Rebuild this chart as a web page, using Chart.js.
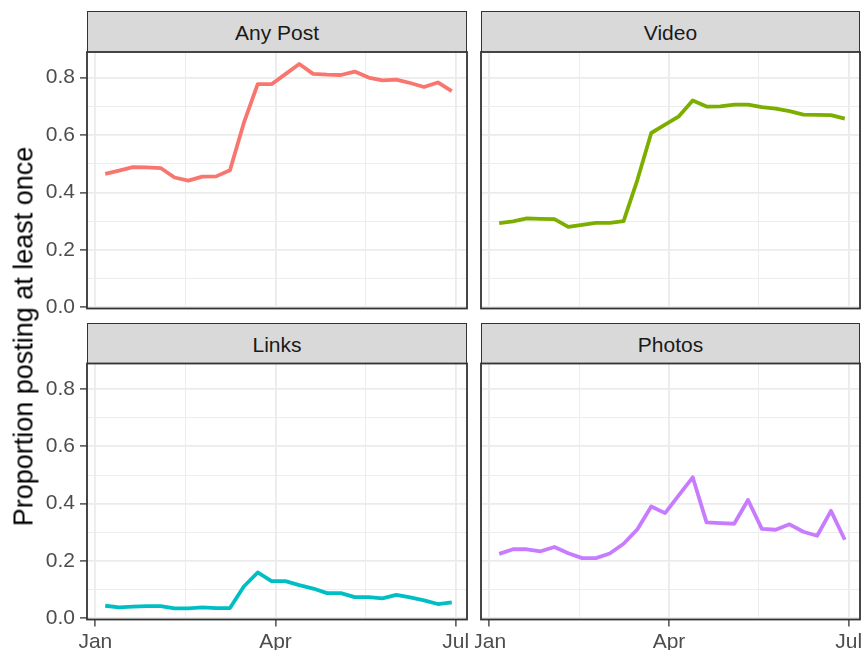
<!DOCTYPE html>
<html><head><meta charset="utf-8">
<script src="https://cdn.jsdelivr.net/npm/chart.js@4.4.1/dist/chart.umd.min.js"></script>
<style>
html,body{margin:0;padding:0;background:#fff;}
#wrap{position:relative;width:865px;height:650px;overflow:hidden;background:#fff;font-family:"Liberation Sans",Arial,sans-serif;}
canvas{position:absolute;}
.strip{position:absolute;box-sizing:border-box;background:#D9D9D9;border:1px solid #333;border-bottom:none;display:flex;align-items:center;justify-content:center;font-size:21px;color:#1A1A1A;padding-top:2px;}
#ytitle{position:absolute;left:-226.4px;top:322.5px;width:500px;height:27px;line-height:27px;font-size:27px;text-align:center;color:#000;transform:rotate(-90deg);white-space:nowrap;}
</style></head>
<body><div id="wrap">
<div class="strip" id="s0" style="left:87px;top:11px;width:380px;height:41px"></div>
<div class="strip" id="s1" style="left:481px;top:11px;width:379px;height:41px"></div>
<div class="strip" id="s2" style="left:87px;top:322.5px;width:380px;height:41px"></div>
<div class="strip" id="s3" style="left:481px;top:322.5px;width:379px;height:41px"></div>
<canvas id="c0" width="475" height="280" style="left:0;top:40px"></canvas>
<canvas id="c1" width="390" height="280" style="left:475px;top:40px"></canvas>
<canvas id="c2" width="475" height="298" style="left:0;top:352px"></canvas>
<canvas id="c3" width="390" height="298" style="left:475px;top:352px"></canvas>
<div id="ytitle"></div>
</div>
<script>
// ---- data ----
const weekDates = ['2020-01-06','2020-01-13','2020-01-20','2020-01-27','2020-02-03','2020-02-10','2020-02-17','2020-02-24',
  '2020-03-02','2020-03-09','2020-03-16','2020-03-23','2020-03-30','2020-04-06','2020-04-13','2020-04-20','2020-04-27',
  '2020-05-04','2020-05-11','2020-05-18','2020-05-25','2020-06-01','2020-06-08','2020-06-15','2020-06-22','2020-06-29'];
const facets = ['Any Post','Video','Links','Photos'];
const anyPost = [0.465,0.476,0.488,0.487,0.485,0.452,0.441,0.455,0.456,0.477,0.642,0.777,0.777,0.812,0.847,0.813,0.810,0.809,0.821,0.800,0.790,0.793,0.781,0.767,0.783,0.753];
const video   = [0.293,0.299,0.310,0.308,0.307,0.280,0.287,0.294,0.294,0.300,0.444,0.607,0.636,0.665,0.720,0.699,0.700,0.706,0.706,0.697,0.692,0.683,0.671,0.670,0.669,0.657];
const links   = [0.044,0.038,0.041,0.043,0.043,0.035,0.035,0.038,0.036,0.036,0.111,0.160,0.130,0.130,0.116,0.104,0.088,0.088,0.074,0.074,0.070,0.082,0.073,0.063,0.050,0.056];
const photos  = [0.225,0.241,0.241,0.234,0.249,0.227,0.210,0.210,0.226,0.260,0.311,0.390,0.367,0.430,0.492,0.335,0.332,0.330,0.413,0.312,0.309,0.328,0.302,0.288,0.375,0.274];
const colors  = ['#F8766D','#7CAE00','#00BFC4','#C77CFF'];
const yMajor = [0, 0.2, 0.4, 0.6, 0.8];
const yMinor = [0.1, 0.3, 0.5, 0.7];
const xTickLabels = ['Jan','Apr','Jul'];
const xTickDates = ['2020-01-01','2020-04-01','2020-07-01'];
const yTitle = 'Proportion posting at least once';

// ---- helpers ----
const FONT = '"Liberation Sans", Arial, sans-serif';
const dayOf = s => { const [y,m,d] = s.split('-').map(Number); return (Date.UTC(y,m-1,d) - Date.UTC(2020,0,1)) / 86400000; };
const weekDays = weekDates.map(dayOf);
const xMajorDays = xTickDates.map(dayOf);
const xMinorDays = xMajorDays.slice(1).map((d,i) => (d + xMajorDays[i]) / 2);
const xAll = xMajorDays.concat(xMinorDays).sort((a,b)=>a-b);
const yAll = yMajor.concat(yMinor).sort((a,b)=>a-b);
const isMajX = v => xMajorDays.some(m => Math.abs(m - v) < 1e-6);
const isMajY = v => yMajor.some(m => Math.abs(m - v) < 1e-6);
const X_MIN = -4.2, X_MAX = 187.7, Y_MIN = -0.004, Y_MAX = 0.889;

const borderPlugin = {
  id: 'panelBorder',
  afterDraw(chart) {
    const a = chart.chartArea, ctx = chart.ctx;
    ctx.save();
    ctx.strokeStyle = '#333333';
    ctx.lineWidth = 1.8;
    ctx.strokeRect(a.left, a.top, a.right - a.left, a.bottom - a.top);
    ctx.restore();
  }
};

function makePanel(id, values, color, showY, showX, pad, xh) {
  const pts = weekDays.map((d, i) => ({x: d, y: values[i]}));
  new Chart(document.getElementById(id), {
    type: 'line',
    data: {datasets: [{data: pts, borderColor: color, borderWidth: 3.8, pointRadius: 0, tension: 0, fill: false,
      borderJoinStyle: 'round', borderCapStyle: 'butt'}]},
    options: {
      responsive: false, animation: false, devicePixelRatio: 1, events: [],
      layout: {padding: pad},
      plugins: {legend: {display: false}, tooltip: {enabled: false}},
      scales: {
        x: {
          type: 'linear', min: X_MIN, max: X_MAX,
          afterBuildTicks: s => { s.ticks = xAll.map(v => ({value: v})); },
          afterFit: s => { s.height = showX ? xh : 0; s.paddingLeft = 0; s.paddingRight = 0; },
          border: {display: false},
          grid: {
            color: '#EBEBEB',
            lineWidth: c => (c.tick && !isMajX(c.tick.value)) ? 0.9 : 1.8,
            drawTicks: showX, tickLength: 7, tickWidth: 1.3,
            tickColor: c => (c.tick && isMajX(c.tick.value)) ? '#333333' : 'rgba(0,0,0,0)'
          },
          ticks: {
            display: showX, autoSkip: false, maxRotation: 0, minRotation: 0, padding: 3.5,
            color: '#4D4D4D', font: {family: FONT, size: 21},
            callback: v => { const i = xMajorDays.findIndex(m => Math.abs(m - v) < 1e-6); return i >= 0 ? xTickLabels[i] : ''; }
          }
        },
        y: {
          type: 'linear', min: Y_MIN, max: Y_MAX,
          afterBuildTicks: s => { s.ticks = yAll.map(v => ({value: v})); },
          afterFit: s => { s.width = showY ? 87 : 0; s.paddingTop = 0; s.paddingBottom = 0; },
          border: {display: false},
          grid: {
            color: '#EBEBEB',
            lineWidth: c => (c.tick && !isMajY(c.tick.value)) ? 0.9 : 1.8,
            drawTicks: showY, tickLength: 7, tickWidth: 1.3,
            tickColor: c => (c.tick && isMajY(c.tick.value)) ? '#333333' : 'rgba(0,0,0,0)'
          },
          ticks: {
            display: showY, autoSkip: false, padding: 5,
            color: '#4D4D4D', font: {family: FONT, size: 21},
            callback: v => isMajY(v) ? Number(v).toFixed(1) : ''
          }
        }
      }
    },
    plugins: [borderPlugin]
  });
}

facets.forEach((f, i) => { document.getElementById('s' + i).textContent = f; });
document.getElementById('ytitle').textContent = yTitle;

makePanel('c0', anyPost, colors[0], true,  false, {left: 0, top: 12, right: 8, bottom: 11.5}, 0);
makePanel('c1', video,   colors[1], false, false, {left: 6, top: 12, right: 5, bottom: 11.5}, 0);
makePanel('c2', links,   colors[2], true,  true,  {left: 0, top: 11.5, right: 8, bottom: 0}, 30.5);
makePanel('c3', photos,  colors[3], false, true,  {left: 6, top: 11.5, right: 5, bottom: 0}, 30.5);
</script>
</body></html>
